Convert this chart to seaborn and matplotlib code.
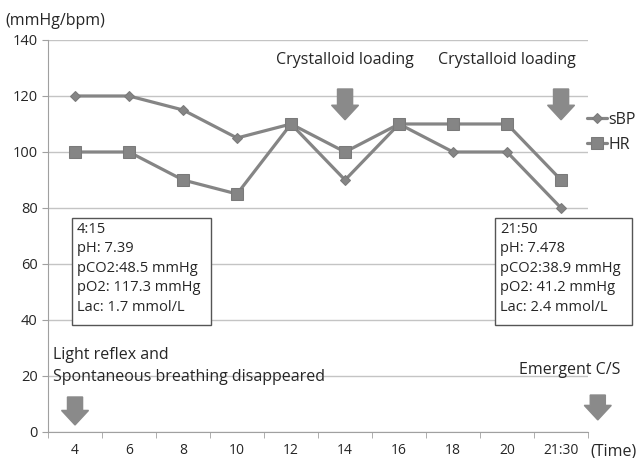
import pandas as pd
import numpy as np
import matplotlib.pyplot as plt
import seaborn as sns
from matplotlib.patches import FancyArrow, Rectangle

times = ['4', '6', '8', '10', '12', '14', '16', '18', '20', '21:30']
sbp = [120, 120, 115, 105, 110, 90, 110, 100, 100, 80]
hr = [100, 100, 90, 85, 110, 100, 110, 110, 110, 90]

gas_first = ['4:15', 'pH: 7.39', 'pCO2:48.5 mmHg', 'pO2: 117.3 mmHg', 'Lac: 1.7 mmol/L']
gas_last = ['21:50', 'pH: 7.478', 'pCO2:38.9 mmHg', 'pO2: 41.2 mmHg', 'Lac: 2.4 mmol/L']

data = pd.DataFrame({'time': times, 'sBP': sbp, 'HR': hr})

sns.set_style('white')
plt.rcParams['font.family'] = ['Open Sans', 'DejaVu Sans']

fig = plt.figure(figsize=(6.42, 4.58), dpi=100)
ax = fig.add_axes([0.0748, 0.0568, 0.8412, 0.8559])

line_col = '#858585'
sns.lineplot(data=data, x='time', y='sBP', ax=ax, color=line_col, lw=2.3,
             marker='D', markersize=5.5, markeredgecolor='#7a7a7a', label='sBP', sort=False)
sns.lineplot(data=data, x='time', y='HR', ax=ax, color=line_col, lw=2.3,
             marker='s', markersize=8, markeredgecolor='#7a7a7a', label='HR', sort=False)

ax.set_xlim(-0.5, 9.5)
ax.set_ylim(0, 140)
ax.set_yticks(np.arange(0, 141, 20))
ax.yaxis.grid(True, color='#c4c4c4', lw=1)
ax.set_axisbelow(True)
ax.set_xlabel('')
ax.set_ylabel('')
for s in ['top', 'right']:
    ax.spines[s].set_visible(False)
for s in ['left', 'bottom']:
    ax.spines[s].set_color('#a0a0a0')
ax.set_xticks(np.arange(-0.5, 10, 1), minor=True)
ax.tick_params(axis='x', which='major', length=0, labelsize=10, pad=8)
ax.tick_params(axis='x', which='minor', length=4, color='#a0a0a0', direction='out', bottom=True)
ax.tick_params(axis='y', length=4, color='#a0a0a0', labelsize=10.5, left=True)

ax.legend(loc='upper left', bbox_to_anchor=(0.905, 0.77), bbox_transform=fig.transFigure,
          frameon=False, fontsize=11.5, handlelength=1.2, handletextpad=0.1,
          labelspacing=0.55, borderaxespad=0)

fig.text(0.008, 0.955, '(mmHg/bpm)', fontsize=11.5, va='center', ha='left')
fig.text(0.956, 0.015, '(Time)', fontsize=11.5, va='center', ha='center')

ax.text(5, 133, 'Crystalloid loading', fontsize=11.5, ha='center', va='center')
ax.text(8, 133, 'Crystalloid loading', fontsize=11.5, ha='center', va='center')
ax.text(-0.41, 23.5, 'Light reflex and\nSpontaneous breathing disappeared', fontsize=11.5,
        ha='left', va='center', linespacing=1.5)
ax.text(10.09, 22.1, 'Emergent C/S', fontsize=11.5, ha='right', va='center', clip_on=False)

# blood gas boxes (fixed size like the original text boxes)
for x0, x1, lines in [(-0.056, 2.52, gas_first), (7.78, 10.31, gas_last)]:
    ax.add_patch(Rectangle((x0, 38.2), x1 - x0, 76.4 - 38.2, fc='white', ec='#555555',
                           lw=1, clip_on=False, zorder=4))
    ax.text(x0 + 0.09, 75.0, '\n'.join(lines), fontsize=10.5, ha='left', va='top',
            linespacing=1.4, clip_on=False, zorder=5)

arrow_col = '#8a8a8a'
for xa, ytop, ybot in [(5, 122.5, 111.5), (9, 122.5, 111.5), (0, 12.5, 2.5), (9.68, 13.2, 4.3)]:
    ax.add_patch(FancyArrow(xa, ytop, 0, -(ytop - ybot), width=0.28, head_width=0.5,
                            head_length=5.2, length_includes_head=True,
                            color=arrow_col, clip_on=False, zorder=5))

fig.savefig('out.png', dpi=100)
